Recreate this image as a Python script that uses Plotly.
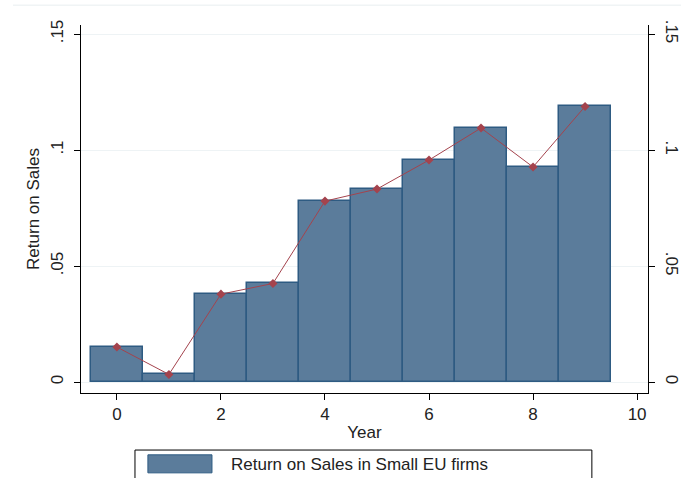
import plotly.graph_objects as go

# Return on sales by year, small EU firms
years = [0, 1, 2, 3, 4, 5, 6, 7, 8, 9]
ros = [0.0151, 0.0033, 0.0379, 0.0425, 0.0780, 0.0832, 0.0957, 0.1095, 0.0927, 0.1188]
y_ticks = [0, 0.05, 0.10, 0.15]
y_tick_text = ["0", ".05", ".1", ".15"]
x_ticks = [0, 2, 4, 6, 8, 10]
legend_label = "Return on Sales in Small EU firms"

bar_fill = "#5b7c9b"
bar_edge = "#2e5b82"
line_col = "#a4434d"
font_family = "Liberation Sans, Arial, sans-serif"
fsize = 17

fig = go.Figure()
fig.add_trace(go.Bar(
    x=years, y=ros, width=1.0,
    marker=dict(color=bar_fill, line=dict(color=bar_edge, width=1.5)),
    showlegend=False,
))
fig.add_trace(go.Scatter(
    x=years, y=ros, mode="lines+markers",
    line=dict(color=line_col, width=1),
    marker=dict(symbol="diamond", size=7, color=line_col),
    showlegend=False,
))
# Mirror axis on the right
fig.add_trace(go.Scatter(
    x=years, y=ros, yaxis="y2", mode="lines",
    line=dict(width=0), hoverinfo="skip", showlegend=False, opacity=0,
))

yaxis_common = dict(
    range=[-0.0047, 0.1539],
    tickvals=y_ticks, ticktext=y_tick_text,
    ticks="outside", ticklen=6, tickcolor="black",
    showline=True, linecolor="black", linewidth=1,
    zeroline=False, automargin=False,
    ticklabelstandoff=4,
    tickfont=dict(family=font_family, size=fsize, color="#222"),
)

fig.update_layout(
    width=681, height=478,
    margin=dict(l=81, r=33, t=25, b=85),
    paper_bgcolor="white", plot_bgcolor="white",
    font=dict(family=font_family, size=fsize, color="#222"),
    bargap=0,
    xaxis=dict(
        range=[-0.69, 10.21],
        tickvals=x_ticks,
        ticks="outside", ticklen=6, tickcolor="black",
        showline=True, linecolor="black", linewidth=1,
        showgrid=False, zeroline=False, automargin=False,
        title=dict(text="Year", standoff=2, font=dict(size=fsize)),
        tickfont=dict(size=fsize),
    ),
    yaxis=dict(
        **yaxis_common,
        tickangle=-90,
        showgrid=True, gridcolor="#eef3f5", gridwidth=1,
        title=dict(text="Return on Sales", standoff=4, font=dict(size=fsize)),
    ),
    yaxis2=dict(
        **yaxis_common,
        tickangle=90,
        overlaying="y", side="right", matches="y",
        showgrid=False,
    ),
    shapes=[
        # outer frame line near the top
        dict(type="line", xref="paper", yref="paper", x0=-0.12, x1=1.06,
             y0=1.054, y1=1.054, line=dict(color="#e8eef0", width=1)),
        # legend box
        dict(type="rect", xref="paper", yref="paper", x0=0.0952, x1=0.901,
             y0=-0.25, y1=-0.155, line=dict(color="black", width=1),
             fillcolor="white"),
        # legend swatch
        dict(type="rect", xref="paper", yref="paper", x0=0.118, x1=0.231,
             y0=-0.217, y1=-0.168, line=dict(color=bar_edge, width=1),
             fillcolor=bar_fill),
    ],
    annotations=[
        dict(text=legend_label, xref="paper", yref="paper", x=0.261, y=-0.193,
             xanchor="left", yanchor="middle", showarrow=False,
             font=dict(size=fsize, color="#222")),
    ],
)

fig.write_html("out.html")
